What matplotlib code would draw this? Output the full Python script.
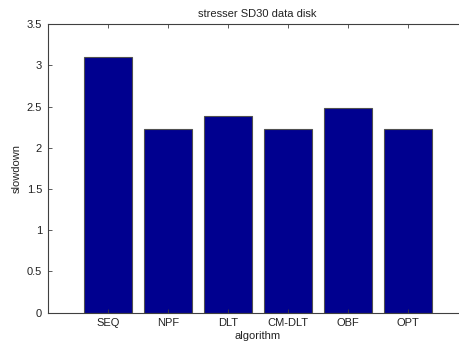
#!/usr/bin/env python3
import numpy as np
import matplotlib.pyplot as plt

# ================================
# DATA
# ================================

ALGORITHMS = ["SEQ", "NPF", "DLT", "CM-DLT", "OBF", "OPT"]
SLOWDOWN = [3.10, 2.23, 2.39, 2.23, 2.48, 2.23]

BAR_COLOR = "#00008F"
AXIS_COLOR = "#404040"

plt.rcParams["font.family"] = ["Liberation Sans", "DejaVu Sans"]
plt.rcParams["font.size"] = 8

fig = plt.figure(figsize=(4.59, 3.49), dpi=100)
# matlab-style axes, right edge runs past the figure
ax = fig.add_axes([0.104, 0.104, 0.915, 0.827])

x = np.arange(1, len(ALGORITHMS) + 1)
ax.bar(x, SLOWDOWN, width=0.8, color=BAR_COLOR, edgecolor="#505050", linewidth=0.8)

ax.set_xlim(0, len(ALGORITHMS) + 1)
ax.set_ylim(0, 3.5)
ax.set_xticks(x)
ax.set_xticklabels(ALGORITHMS)
ax.set_yticks(np.arange(0, 3.51, 0.5))
ax.set_yticklabels(["0", "0.5", "1", "1.5", "2", "2.5", "3", "3.5"])

ax.tick_params(direction="in", length=3, width=0.6, colors=AXIS_COLOR,
               labelcolor="#222222", top=True, right=True, pad=4)
for s in ax.spines.values():
    s.set_color(AXIS_COLOR)
    s.set_linewidth(0.8)

ax.set_title("stresser SD30 data disk", fontsize=8, color="#222222", pad=5)
ax.set_xlabel("algorithm", color="#222222", labelpad=2)
ax.set_ylabel("slowdown", color="#222222", labelpad=4)

fig.savefig("out.png", dpi=100)
